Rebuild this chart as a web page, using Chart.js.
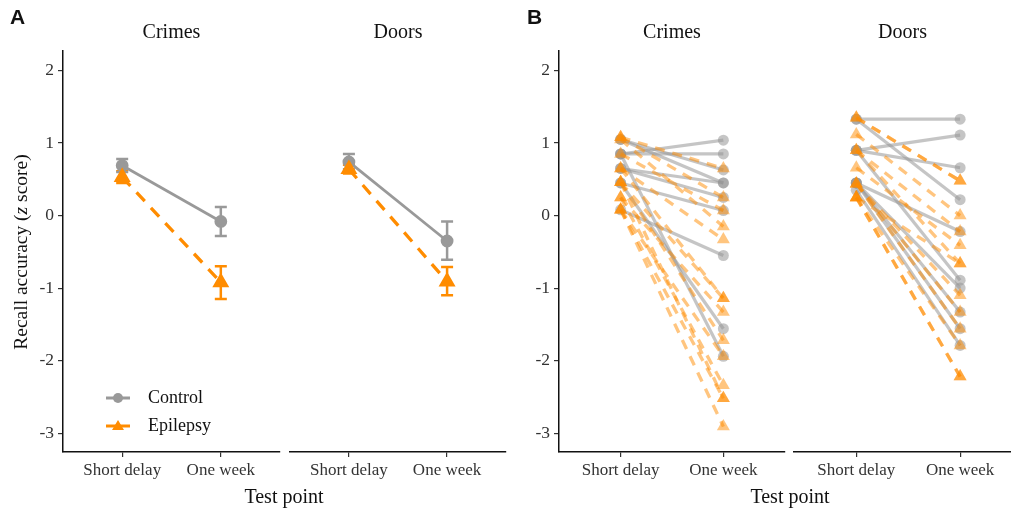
<!DOCTYPE html>
<html><head><meta charset="utf-8">
<script src="https://cdn.jsdelivr.net/npm/chart.js@4/dist/chart.umd.min.js"></script>
<style>
body{margin:0;width:1011px;height:511px;overflow:hidden;background:#fff;position:relative;font-family:"Liberation Serif","Times New Roman",serif;color:#111;}
canvas{position:absolute;top:0;}
.t{position:absolute;white-space:nowrap;}
.panel{font-family:"Liberation Sans",Arial,sans-serif;font-weight:bold;font-size:21px;top:5px;}
.xt{font-size:20px;top:485px;transform:translateX(-50%);}
.yt{font-size:19.5px;left:21px;top:252px;transform:translate(-50%,-50%) rotate(-90deg);}
.leg{font-size:18px;}
</style></head><body>
<canvas id="a1" width="285" height="511" style="left:0"></canvas>
<canvas id="a2" width="226" height="511" style="left:285px"></canvas>
<canvas id="b1" width="285" height="511" style="left:505px"></canvas>
<canvas id="b2" width="221" height="511" style="left:790px"></canvas>
<div class="t panel" style="left:10px">A</div>
<div class="t panel" style="left:527px">B</div>
<div class="t yt">Recall accuracy (<i>z</i> score)</div>
<div class="t xt" id="xtA" style="left:284px"></div>
<div class="t xt" id="xtB" style="left:790px"></div>
<div id="legend"></div>
<script>
// ---- categories / labels ----
const timePoints = ['Short delay', 'One week'];
const timeX = [1, 2];
const facets = ['Crimes', 'Doors'];
const groups = ['Control', 'Epilepsy'];
const yTicks = [-3, -2, -1, 0, 1, 2];
const xTitle = 'Test point';

// ---- Panel A: group means with error bars ----
const crimesControlMean = [0.69, -0.08];
const crimesControlLow  = [0.60, -0.28];
const crimesControlHigh = [0.78, 0.12];
const crimesEpilepsyMean = [0.53, -0.92];
const crimesEpilepsyLow  = [0.45, -1.15];
const crimesEpilepsyHigh = [0.61, -0.70];
const doorsControlMean = [0.74, -0.35];
const doorsControlLow  = [0.64, -0.61];
const doorsControlHigh = [0.85, -0.08];
const doorsEpilepsyMean = [0.64, -0.91];
const doorsEpilepsyLow  = [0.58, -1.10];
const doorsEpilepsyHigh = [0.70, -0.71];

// ---- Panel B: individual participants (short delay -> one week) ----
const crimesControlShort = [0.85, 0.85, 1.05, 1.05, 0.65, 0.45, 0.08, 0.45, 0.85, 0.65];
const crimesControlWeek  = [1.04, 0.85, 0.63, 0.45, 0.45, 0.07, -0.55, -1.56, -1.94, 0.25];
const crimesEpilepsyShort = [1.08, 1.08, 1.05, 0.85, 0.65, 0.65, 0.46, 0.46, 0.25, 0.25, 0.08, 0.08, 0.08, 0.46];
const crimesEpilepsyWeek  = [0.65, 0.25, -0.15, 0.07, -0.33, -1.14, -1.14, -1.72, -2.34, -1.33, -2.52, -1.94, -2.91, -2.52];
const doorsControlShort = [1.33, 0.90, 0.90, 1.33, 0.45, 0.90, 0.45, 0.45, 0.35, 0.45];
const doorsControlWeek  = [1.33, 1.11, 0.66, 0.22, -0.22, -0.89, -1.33, -1.56, -1.79, -1.00];
const doorsEpilepsyShort = [1.35, 1.35, 1.12, 0.90, 0.90, 0.66, 0.44, 0.44, 0.44, 0.25, 0.25, 0.25, 0.25];
const doorsEpilepsyWeek  = [0.48, 0.48, 0.00, -0.22, -0.66, -0.41, -1.10, -1.33, -1.56, -0.66, -1.79, -2.22, -2.22];

// ---- styles ----
const GRAY = 'rgb(153,153,153)';
const ORANGE = 'rgb(255,140,0)';
const GRAY_A = 'rgba(150,150,150,0.55)';
const ORANGE_A = 'rgba(255,140,0,0.5)';
const SERIF = '"Liberation Serif","Times New Roman",serif';
const Y_MIN = -3.26, Y_MAX = 2.27;

const errorBars = {
  id: 'errorBars',
  beforeDatasetsDraw(chart) {
    const {ctx} = chart; const xs = chart.scales.x, ys = chart.scales.y;
    chart.data.datasets.forEach(ds => {
      if (!ds.errLow) return;
      ctx.save(); ctx.strokeStyle = ds.borderColor; ctx.lineWidth = 2.5; ctx.setLineDash([]);
      ds.data.forEach((p, j) => {
        const px = xs.getPixelForValue(p.x);
        const lo = ys.getPixelForValue(ds.errLow[j]), hi = ys.getPixelForValue(ds.errHigh[j]);
        ctx.beginPath();
        ctx.moveTo(px, lo); ctx.lineTo(px, hi);
        ctx.moveTo(px - 6, lo); ctx.lineTo(px + 6, lo);
        ctx.moveTo(px - 6, hi); ctx.lineTo(px + 6, hi);
        ctx.stroke();
      });
      ctx.restore();
    });
  }
};

function pts(vals) { return vals.map((v, i) => ({x: timeX[i], y: v})); }

function meanSets(cMean, cLo, cHi, eMean, eLo, eHi) {
  return [
    {label: groups[1], data: pts(eMean), errLow: eLo, errHigh: eHi, borderColor: ORANGE, backgroundColor: ORANGE,
     borderWidth: 3.3, borderDash: [12, 9], pointStyle: 'triangle', pointRadius: 6.5, order: 1},
    {label: groups[0], data: pts(cMean), errLow: cLo, errHigh: cHi, borderColor: GRAY, backgroundColor: GRAY,
     borderWidth: 2.8, pointStyle: 'circle', pointRadius: 5, order: 2}
  ];
}

function indivSets(cS, cW, eS, eW) {
  const out = [];
  cS.forEach((s, i) => out.push({label: groups[0], data: pts([s, cW[i]]), borderColor: GRAY_A, backgroundColor: GRAY_A,
    borderWidth: 3.2, pointStyle: 'circle', pointRadius: 5.5, pointBorderWidth: 0, order: 2}));
  eS.forEach((s, i) => out.push({label: groups[1], data: pts([s, eW[i]]), borderColor: ORANGE_A, backgroundColor: ORANGE_A,
    borderWidth: 3.3, borderDash: [10, 8], pointStyle: 'triangle', pointRadius: 7.5, pointBorderWidth: 0, order: 1}));
  return out;
}

function makeChart(id, facet, datasets, o) {
  return new Chart(document.getElementById(id), {
    type: 'line',
    data: {datasets},
    options: {
      responsive: false, animation: false, devicePixelRatio: 1,
      layout: {autoPadding: false, padding: {left: o.padL, right: o.padR, top: 0, bottom: 0}},
      plugins: {
        legend: {display: false}, tooltip: {enabled: false},
        title: {display: true, text: facet, fullSize: false, color: '#111',
          font: {family: SERIF, size: 20, weight: 'normal', lineHeight: 1.2}, padding: {top: 21, bottom: 6}}
      },
      scales: {
        x: {type: 'linear', min: 0.4, max: o.xMax,
          afterBuildTicks: s => { s.ticks = timeX.map(v => ({value: v})); },
          afterFit: s => { s.height = 59; s.paddingLeft = 0; s.paddingRight = 0; },
          ticks: {callback: v => timePoints[timeX.indexOf(v)], autoSkip: false, maxRotation: 0, color: '#333',
            font: {family: SERIF, size: 17}, padding: 3},
          grid: {drawOnChartArea: false, tickLength: 5, color: '#333', lineWidth: 1.2},
          border: {color: '#111', width: 1.5}},
        y: {type: 'linear', min: Y_MIN, max: Y_MAX, display: o.showY,
          afterBuildTicks: s => { s.ticks = yTicks.map(v => ({value: v})); },
          afterFit: s => { s.width = o.yW; s.paddingTop = 0; s.paddingBottom = 0; },
          ticks: {color: '#333', font: {family: SERIF, size: 17.5}, padding: 4},
          grid: {drawOnChartArea: false, tickLength: 5, color: '#333', lineWidth: 1.2},
          border: {color: '#111', width: 1.5}}
      }
    },
    plugins: [errorBars]
  });
}

makeChart('a1', facets[0], meanSets(crimesControlMean, crimesControlLow, crimesControlHigh, crimesEpilepsyMean, crimesEpilepsyLow, crimesEpilepsyHigh),
  {padL: 0, padR: 5, showY: true, yW: 63, xMax: 2.6});
makeChart('a2', facets[1], meanSets(doorsControlMean, doorsControlLow, doorsControlHigh, doorsEpilepsyMean, doorsEpilepsyLow, doorsEpilepsyHigh),
  {padL: 5, padR: 5, showY: false, yW: 0, xMax: 2.6});
makeChart('b1', facets[0], indivSets(crimesControlShort, crimesControlWeek, crimesEpilepsyShort, crimesEpilepsyWeek),
  {padL: 0, padR: 5, showY: true, yW: 54, xMax: 2.6});
makeChart('b2', facets[1], indivSets(doorsControlShort, doorsControlWeek, doorsEpilepsyShort, doorsEpilepsyWeek),
  {padL: 4, padR: 0, showY: false, yW: 0, xMax: 2.49});

document.getElementById('xtA').textContent = xTitle;
document.getElementById('xtB').textContent = xTitle;

// legend (HTML, real text)
const legend = document.getElementById('legend');
[[groups[0], GRAY, 'circle', 398], [groups[1], ORANGE, 'triangle', 426]].forEach(([name, col, shape, y]) => {
  const mark = shape === 'circle'
    ? `<circle cx="12" cy="10" r="5" fill="${col}"/>`
    : `<polygon points="12,4 18,14 6,14" fill="${col}"/>`;
  const key = document.createElement('div');
  key.className = 't';
  key.style.left = '106px'; key.style.top = (y - 10) + 'px';
  key.innerHTML = `<svg width="24" height="20"><line x1="0" y1="10" x2="24" y2="10" stroke="${col}" stroke-width="3"/>${mark}</svg>`;
  legend.appendChild(key);
  const txt = document.createElement('div');
  txt.className = 't leg'; txt.style.left = '148px'; txt.style.top = (y - 11) + 'px';
  txt.textContent = name;
  legend.appendChild(txt);
});
</script>
</body></html>
